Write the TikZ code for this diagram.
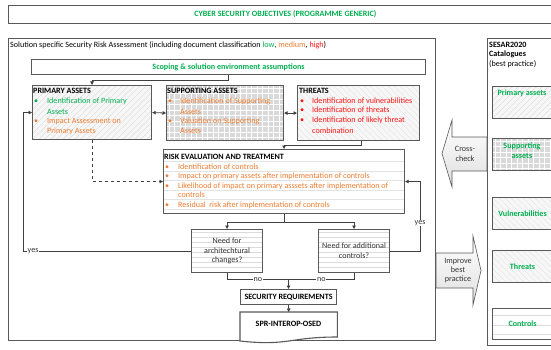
\documentclass[tikz,border=0pt]{standalone}
\usepackage{fontspec}
\setmainfont{Carlito}
\usetikzlibrary{arrows.meta,calc}
\definecolor{csgreen}{RGB}{0,176,80}
\definecolor{csorange}{RGB}{237,125,49}
\definecolor{csred}{RGB}{255,20,20}
\definecolor{edge}{RGB}{89,89,89}
\definecolor{wire}{RGB}{64,64,64}
\definecolor{ink}{RGB}{50,50,50}
\newcommand{\bodyfont}{\fontsize{8.1}{9.6}\selectfont}
\tikzset{
  frame/.style={draw=edge, line width=0.8pt, inner sep=0, anchor=north west},
  panel/.style={draw=edge, line width=1.1pt, inner sep=0, anchor=north west},
  outline/.style={draw=edge, line width=1.1pt},
  % light fill with rising diagonal hatching
  diaghatch/.style={fill=gray!6, path picture={
    \foreach \k in {-102,-96,...,130}
      \draw[gray!30, line width=0.3pt]
        ([xshift=\k pt]path picture bounding box.south west) -- ++(100,-100);}},
  % light fill with falling diagonal hatching
  backhatch/.style={fill=gray!6, path picture={
    \foreach \k in {-102,-96,...,130}
      \draw[gray!30, line width=0.3pt]
        ([xshift=\k pt]path picture bounding box.north west) -- ++(100,100);}},
  % grey fill crossed by a white grid
  gridfill/.style={fill=gray!30, path picture={
    \foreach \k in {2.5,8,...,125}
      \draw[white, line width=0.5pt]
        ([xshift=\k pt]path picture bounding box.north west) -- ++(0,70);
    \foreach \k in {2.5,8,...,70}
      \draw[white, line width=0.5pt]
        ([yshift=-\k pt]path picture bounding box.north west) -- ++(130,0);}},
  % white fill with thin horizontal rules
  ruled/.style={fill=white, path picture={
    \foreach \k in {3,8,...,45}
      \draw[gray!28, line width=0.35pt]
        ([yshift=-\k pt]path picture bounding box.north west) -- ++(100,0);}},
  wideruled/.style={fill=white, path picture={
    \foreach \k in {12,21.5,...,64}
      \draw[gray!22, line width=0.35pt]
        ([yshift=-\k pt]path picture bounding box.north west) -- ++(250,0);}},
  sparse/.style={fill=white, path picture={
    \foreach \k in {7,16.5,...,35}
      \draw[gray!28, line width=0.35pt]
        ([yshift=-\k pt]path picture bounding box.north west) -- ++(100,0);}},
  txt/.style={anchor=base west, inner sep=0, font=\bodyfont},
  head/.style={txt, font=\bodyfont\bfseries, text=black},
  link/.style={draw=wire, line width=0.8pt},
  tip/.style={-{Triangle[length=3.5pt,width=3.5pt]}},
  both/.style={{Triangle[length=3.5pt,width=3.5pt]}-{Triangle[length=3.5pt,width=3.5pt]}},
  ans/.style={fill=white, inner sep=0.6pt, text=ink, font=\bodyfont},
  catname/.style={inner sep=0, font=\bodyfont\bfseries, text=csgreen, align=center},
  blockarrow/.style={top color=white, bottom color=gray!25, draw=edge, line width=0.6pt},
}
\begin{document}
\begin{tikzpicture}[x=1pt,y=-1pt]
\useasboundingbox (0,0) rectangle (551,350);
\fill[white] (0,0) rectangle (551,350);
\clip (0,0) rectangle (551,350);

% programme level objectives
\node[frame, minimum width=554, minimum height=18, font=\bodyfont\bfseries, text=csgreen]
  (objectives) at (8,5) {CYBER SECURITY OBJECTIVES (PROGRAMME GENERIC)};

% solution specific assessment frame
\node[frame, minimum width=427, minimum height=302] (sra) at (8,38) {};
\node[txt, text=black] (sratitle) at (10,47.5)
  {Solution specific Security Risk Assessment (including document classification
   \textcolor{csgreen}{low}, \textcolor{csorange}{medium}, \textcolor{csred}{high})};

% catalogue frame
\node[frame, minimum width=80, minimum height=307] (cat) at (487,38) {};
\node[head] (cat1) at (489,47.5) {SESAR2020};
\node[head] (cat2) at (489,57) {Catalogues};
\node[txt, text=black] (cat3) at (489,66.5) {(best practice)};

% scoping
\node[panel, minimum width=394, minimum height=15, font=\bodyfont\bfseries, text=csgreen]
  (scope) at (31,59) {Scoping \& solution environment assumptions};

% primary assets
\node[panel, diaghatch, minimum width=119, minimum height=54] (primary) at (32,85) {};
\node[head] (pah) at (33,94) {PRIMARY ASSETS};
\node[txt, text=csgreen] (pab1) at (34,104) {•};
\node[txt, text=csgreen] (pa1) at (47,104) {Identification of Primary};
\node[txt, text=csgreen] (pa2) at (47,114) {Assets};
\node[txt, text=csorange] (pab2) at (34,124) {•};
\node[txt, text=csorange] (pa3) at (47,124) {Impact Assessment on};
\node[txt, text=csorange] (pa4) at (47,134) {Primary Assets};

% supporting assets
\node[panel, gridfill, minimum width=117, minimum height=55] (supporting) at (166,85) {};
\node[head] (sah) at (167,94) {SUPPORTING ASSETS};
\node[txt, text=csorange] (sab1) at (168,104) {•};
\node[txt, text=csorange] (sa1) at (180,104) {Identification of Supporting};
\node[txt, text=csorange] (sa2) at (180,114) {Assets};
\node[txt, text=csorange] (sab2) at (168,124) {•};
\node[txt, text=csorange] (sa3) at (180,124) {Valuation on Supporting};
\node[txt, text=csorange] (sa4) at (180,134) {Assets};

% threats
\node[panel, backhatch, minimum width=122, minimum height=55] (threats) at (297,85) {};
\node[head] (thh) at (299,93.5) {THREATS};
\node[txt, text=csred] (thb1) at (300,103) {•};
\node[txt, text=csred] (th1) at (312,103) {Identification of vulnerabilities};
\node[txt, text=csred] (thb2) at (300,113) {•};
\node[txt, text=csred] (th2) at (312,113) {Identification of threats};
\node[txt, text=csred] (thb3) at (300,123) {•};
\node[txt, text=csred] (th3) at (312,123) {Identification of likely threat};
\node[txt, text=csred] (th4) at (312,133) {combination};

% risk evaluation and treatment
\node[panel, wideruled, minimum width=241, minimum height=64] (risk) at (163,149) {};
\node[head] (rkh) at (164,159) {RISK EVALUATION AND TREATMENT};
\node[txt, text=csorange] (rkb1) at (165,169) {•};
\node[txt, text=csorange] (rk1) at (178,169) {Identification of controls};
\node[txt, text=csorange] (rkb2) at (165,178.5) {•};
\node[txt, text=csorange] (rk2) at (178,178.5) {Impact on primary assets after implementation of controls};
\node[txt, text=csorange] (rkb3) at (165,188) {•};
\node[txt, text=csorange] (rk3) at (178,188) {Likelihood of impact on primary asssets after implementation of};
\node[txt, text=csorange] (rk4) at (178,197.5) {controls};
\node[txt, text=csorange] (rkb4) at (165,207) {•};
\node[txt, text=csorange] (rk5) at (178,207) {Residual\ \ risk after implementation of controls};

% decisions
\node[panel, ruled, minimum width=71, minimum height=43, align=center, text=ink,
  font=\fontsize{8.1}{9.6}\selectfont] (arch) at (191,229) {Need for\\architechtural\\changes?};
\node[panel, ruled, minimum width=71, minimum height=43, align=center, text=ink,
  font=\fontsize{8.1}{10}\selectfont] (add) at (318,229) {Need for additional\\controls?};

% outputs
\node[panel, minimum width=96, minimum height=15, font=\bodyfont\bfseries, text=black]
  (secreq) at (240,289) {SECURITY REQUIREMENTS};
\node[inner sep=0, minimum width=97, minimum height=31, anchor=north west] (spr) at (240,312) {};
\draw[outline, fill=white] (spr.north west) -- (spr.north east) -- ($(spr.north east)+(0,25)$)
  .. controls ($(spr.north)+(0,25)$) and ($(spr.north)+(0,34.3)$) .. ($(spr.north west)+(0,29)$) -- cycle;
\node[inner sep=0, font=\bodyfont\bfseries, text=black] (sprtext) at (288.5,324) {SPR-INTEROP-OSED};

% catalogue entries
\node[panel, diaghatch, minimum width=60, minimum height=32] (cpa) at (492,86) {};
\node[catname, anchor=north] (cpat) at (522,89.5) {Primary assets};
\node[panel, gridfill, minimum width=60, minimum height=32] (csa) at (492,138) {};
\node[catname, anchor=north, font=\fontsize{8.1}{10}\selectfont\bfseries] (csat) at (522,142.5) {Supporting\\assets};
\node[panel, backhatch, minimum width=60, minimum height=32, font=\bodyfont\bfseries, text=csgreen]
  (cvu) at (492,197) {Vulnerabilities};
\node[panel, backhatch, minimum width=60, minimum height=32, font=\bodyfont\bfseries, text=csgreen]
  (cth) at (492,250) {Threats};
\node[panel, sparse, minimum width=60, minimum height=31, font=\bodyfont\bfseries, text=csgreen]
  (cco) at (492,308) {Controls};

% block arrows between assessment and catalogues
\shadedraw[blockarrow] (487,137) -- (452,137) -- (452,120) -- (442,153.5) -- (452,187)
  -- (452,171) -- (487,171) -- cycle;
\node[inner sep=0, align=center, text=ink, font=\fontsize{8.1}{9.5}\selectfont] (crosstext) at (465,154) {Cross-\\check};
\shadedraw[blockarrow] (436,253) -- (473,253) -- (473,236) -- (481,270.5) -- (473,305)
  -- (473,288) -- (436,288) -- cycle;
\node[inner sep=0, align=center, text=ink, font=\fontsize{8.1}{9.2}\selectfont] (improvetext) at (458,270.5) {Improve\\best\\practice};

% connectors
\draw[link, tip] (scope.south) -- ++(0,5) -| (primary.north);
\draw[link, both] (primary.east) -- (supporting.west);
\draw[link, both] (supporting.east) -- (threats.west);
\draw[link, tip] ($(threats.south)+(3,0)$) -- ++(0,4) -| (risk.north);
\draw[link, tip, dashed] (primary.south) |- (risk.west);
\coordinate (split) at ($(risk.south)+(0,8)$);
\draw[link] (risk.south) -- (split);
\draw[link, tip] (split) -| (arch.north);
\draw[link, tip] (split) -| (add.north);
\draw[link, tip] (arch.west) -- node[ans, pos=0.94] {yes} ++(-168,0) |- (primary.west);
\draw[link, tip] (add.east) -- ++(30,0) |- node[ans, pos=0.2] {yes} (risk.east);
\coordinate (merge) at ($(secreq.north)+(0,-9.5)$);
\draw[link] (arch.south) |- node[ans, pos=0.75] {no} (merge);
\draw[link] (add.south) |- node[ans, pos=0.75] {no} (merge);
\draw[link, tip] (merge) -- (secreq.north);
\draw[link, tip] (secreq.south) -- (spr.north);
\end{tikzpicture}
\end{document}
